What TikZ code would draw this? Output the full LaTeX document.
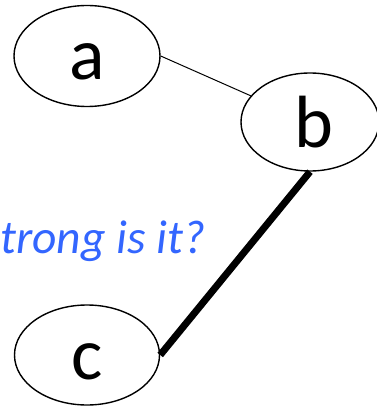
\documentclass[tikz,border=0pt]{standalone}
\usepackage{fontspec}
\setmainfont{Carlito}
\usetikzlibrary{shapes.geometric}
\definecolor{qblue}{RGB}{51,102,255}
\begin{document}
\begin{tikzpicture}[x=1pt,y=-1pt,
  vertex/.style={draw,ellipse,line width=1.4pt,inner sep=0pt},
  letter/.style={anchor=base,inner sep=0pt,font=\fontsize{74}{74}\selectfont},
  thinedge/.style={line width=1pt},
  thickedge/.style={line width=7pt}]
\useasboundingbox (0,0) rectangle (376,406);
\node[vertex,minimum width=146pt,minimum height=101pt] (a) at (87,56) {};
\node[vertex,minimum width=138pt,minimum height=98pt] (b) at (310,122) {};
\node[vertex,minimum width=145pt,minimum height=100pt] (c) at (87,355) {};
\node[letter] (la) at (87,80) {a};
\node[letter] (lb) at (314,147) {b};
\node[letter] (lc) at (87,379) {c};
\node[anchor=base west,inner sep=0pt,text=qblue,font=\fontsize{47.5}{47.5}\selectfont\itshape] (q) at (0,253) {trong is it?};
\draw[thinedge] (a.east) -- (b);
\draw[thickedge] (b.south) -- (c.east);
\end{tikzpicture}
\end{document}
